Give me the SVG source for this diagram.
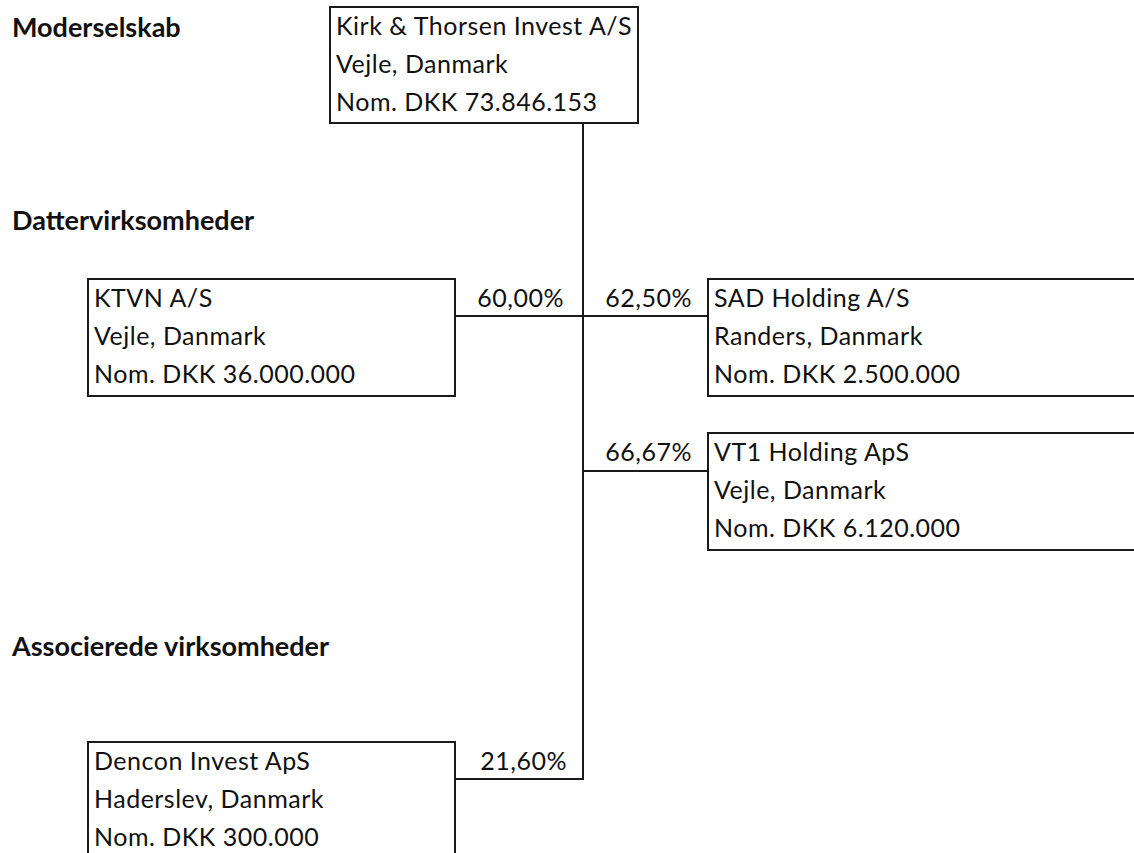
<svg xmlns="http://www.w3.org/2000/svg" width="1134" height="853" viewBox="0 0 1134 853">
<style>
.box{fill:#fff;stroke:#1a1a1a;stroke-width:2}
.ln{fill:none;stroke:#1a1a1a;stroke-width:2}
.t{font-family:Lato,"Liberation Sans",sans-serif;font-size:25px;letter-spacing:0.5px;fill:#111}
.h{font-family:Lato,"Liberation Sans",sans-serif;font-size:27px;font-weight:bold;fill:#111}
.p{font-family:Lato,"Liberation Sans",sans-serif;font-size:25px;letter-spacing:0.5px;fill:#111;text-anchor:end}
</style>
<rect width="1134" height="853" fill="#fff"/>
<g id="headings">
<text class="h" x="12" y="37">Moderselskab</text>
<text class="h" x="12" y="230">Dattervirksomheder</text>
<text class="h" x="12" y="656">Associerede virksomheder</text>
</g>
<g id="connectors">
<path class="ln" d="M583 123 V779 H455"/>
<path class="ln" d="M455 316 H708"/>
<path class="ln" d="M583 471 H708"/>
<text class="p" x="564" y="307">60,00%</text>
<text class="p" x="692" y="307">62,50%</text>
<text class="p" x="692" y="461">66,67%</text>
<text class="p" x="567" y="770">21,60%</text>
</g>
<g id="parent">
<rect class="box" x="330" y="7" width="308" height="116"/>
<text class="t" x="336" y="35">Kirk &amp; Thorsen Invest A/S</text>
<text class="t" x="336" y="73">Vejle, Danmark</text>
<text class="t" x="336" y="111">Nom. DKK 73.846.153</text>
</g>
<g id="ktvn">
<rect class="box" x="88" y="279" width="367" height="117"/>
<text class="t" x="94" y="307">KTVN A/S</text>
<text class="t" x="94" y="345">Vejle, Danmark</text>
<text class="t" x="94" y="383">Nom. DKK 36.000.000</text>
</g>
<g id="sad">
<rect class="box" x="708" y="279" width="440" height="117"/>
<text class="t" x="714" y="307">SAD Holding A/S</text>
<text class="t" x="714" y="345">Randers, Danmark</text>
<text class="t" x="714" y="383">Nom. DKK 2.500.000</text>
</g>
<g id="vt1">
<rect class="box" x="708" y="433" width="440" height="117"/>
<text class="t" x="714" y="461">VT1 Holding ApS</text>
<text class="t" x="714" y="499">Vejle, Danmark</text>
<text class="t" x="714" y="537">Nom. DKK 6.120.000</text>
</g>
<g id="dencon">
<rect class="box" x="88" y="742" width="367" height="130"/>
<text class="t" x="94" y="770">Dencon Invest ApS</text>
<text class="t" x="94" y="808">Haderslev, Danmark</text>
<text class="t" x="94" y="846">Nom. DKK 300.000</text>
</g>
</svg>
